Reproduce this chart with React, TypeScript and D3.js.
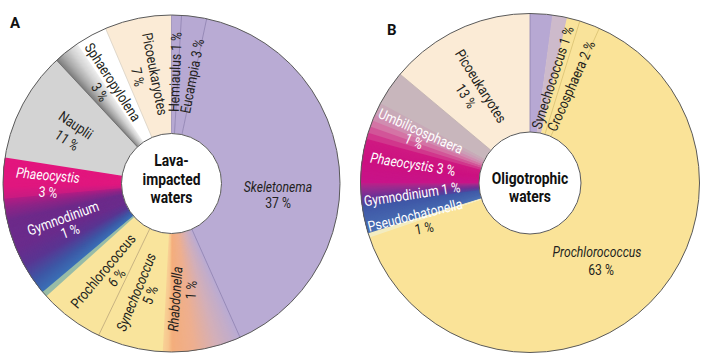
import React from 'react';
import * as d3 from 'd3';

// ---------- DATA (visual shares of each ring, clockwise from 12 o'clock) ----------
const leftTaxa = ['Hemiaulus', 'Eucampia', 'Skeletonema', 'Rhabdonella', 'Synechococcus', 'Prochlorococcus', 'other-a', 'Gymnodinium', 'Phaeocystis', 'Nauplii', 'other-b', 'Sphaeropylolena', 'Picoeukaryotes'];
const leftShares = [0.95, 2.4, 40, 7.5, 6.3, 6.2, 0.55, 9.7, 3.9, 10.6, 2.5, 3.05, 6.4];
const leftPct = ['1 %', '3 %', '37 %', '1 %', '5 %', '6 %', '', '1 %', '3 %', '11 %', '', '3 %', '7 %'];

const rightTaxa = ['Synechococcus', 'other-a', 'other-b', 'Crocosphaera', 'Prochlorococcus', 'other-c', 'Pseudochatonella', 'Gymnodinium', 'Phaeocystis', 'Umbilicosphaera', 'other-d', 'Picoeukaryotes'];
const rightShares = [2.1, 1.4, 1.25, 1.95, 63.1, 0.4, 2.6, 2.2, 4.2, 3.6, 3.3, 13.9];
const rightPct = ['1 %', '', '', '2 %', '63 %', '', '1 %', '1 %', '3 %', '1 %', '', '13 %'];

const leftCenterText = ['Lava-', 'impacted', 'waters'];
const rightCenterText = ['Oligotrophic', 'waters'];

// ---------- STYLES ----------
type Stop = [number, string];
const LAV = '#b9abd4';
const YEL = '#f9e49c';
const CREAM = '#fbebd6';

const leftFills: Stop[][] = [
  [[0, '#b6a8d2']],
  [[0, '#b7a9d3']],
  [[0, LAV]],
  [[0, LAV], [0.3, '#d2afba'], [0.6, '#eeaf90'], [0.88, '#f4ae7c'], [0.93, '#f7c58e'], [1, '#f8d296']],
  [[0, YEL]],
  [[0, YEL]],
  [[0, '#98bca6']],
  [[0, '#3a70b6'], [0.14, '#3d58a6'], [0.32, '#5a3592'], [0.5, '#6a2c8c'], [0.78, '#6d2a8a'], [0.9, '#8d2487'], [1, '#b41c84']],
  [[0, '#c81c82'], [0.3, '#e0177f'], [1, '#e3167e']],
  [[0, '#d3d3d3']],
  [[0, '#7c7c7c'], [0.3, '#a9a9a9'], [0.65, '#d2d2d2'], [1, '#efefef']],
  [[0, '#ffffff']],
  [[0, CREAM]],
];
const leftEdges: (string | null)[] = ['#9489b4', '#8e82b0', '#8e82b0', '#8e82b0', null, '#bba67a', null, null, null, null, '#666666', null, '#d8d0c4'];

const rightFills: Stop[][] = [
  [[0, '#b7a8d3']],
  [[0, '#cdbacb']],
  [[0, '#f9e39a']],
  [[0, '#f9e39a']],
  [[0, '#fae398']],
  [[0, '#f3ecc0']],
  [[0, '#4a70b4'], [1, '#3f56a6']],
  [[0, '#4a4aa0'], [0.4, '#6e3296'], [0.8, '#a02a8e'], [1, '#c01e88']],
  [[0, '#c8148a'], [0.5, '#cc1181'], [1, '#cf1a82']],
  [[0, '#d1368c'], [0.2, '#d25598'], [0.4, '#d474a5'], [0.6, '#d08cb0'], [0.8, '#cb9eb6'], [1, '#c8aab8']],
  [[0, '#c8b6bc']],
  [[0, CREAM]],
];
const rightBands = [0, 0, 0, 0, 0, 0, 0, 0, 0, 6, 0, 0];
const rightEdges: (string | null)[] = ['#8e82b0', null, null, '#d8c070', '#d8c070', null, null, null, null, null, null, '#bfb0b0'];

// label layout: taxon index, which line, offset from ring centre, rotation
type LabelLine = { i: number; kind: 'name' | 'pct' | 'both'; dx: number; dy: number; rot: number; fill?: string; it?: boolean };
const leftLabelLayout: LabelLine[] = [
  { i: 0, kind: 'both', dx: 3.5, dy: -111.5, rot: -88 },
  { i: 1, kind: 'both', dx: 20.5, dy: -107.5, rot: -79 },
  { i: 12, kind: 'name', dx: -16.5, dy: -109.5, rot: 79 },
  { i: 12, kind: 'pct', dx: -33.5, dy: -106.5, rot: 79 },
  { i: 11, kind: 'name', dx: -58.5, dy: -101.5, rot: 57 },
  { i: 11, kind: 'pct', dx: -71.5, dy: -91.5, rot: 57 },
  { i: 9, kind: 'name', dx: -95.5, dy: -58.5, rot: 34 },
  { i: 9, kind: 'pct', dx: -104.5, dy: -43.5, rot: 34 },
  { i: 8, kind: 'name', dx: -123.5, dy: -8.5, rot: 5, fill: '#fff', it: true },
  { i: 8, kind: 'pct', dx: -123.5, dy: 8.5, rot: 5, fill: '#fff' },
  { i: 7, kind: 'name', dx: -108.5, dy: 34.5, rot: -20, fill: '#fff' },
  { i: 7, kind: 'pct', dx: -101.5, dy: 47.5, rot: -20, fill: '#fff' },
  { i: 5, kind: 'name', dx: -68.5, dy: 87.5, rot: -50 },
  { i: 5, kind: 'pct', dx: -55, dy: 94, rot: -50 },
  { i: 4, kind: 'name', dx: -35.5, dy: 108.5, rot: -68, it: true },
  { i: 4, kind: 'pct', dx: -21.5, dy: 111.5, rot: -68 },
  { i: 3, kind: 'name', dx: 3.5, dy: 115.5, rot: -86, it: true },
  { i: 3, kind: 'pct', dx: 19.5, dy: 106.5, rot: -86 },
  { i: 2, kind: 'name', dx: 106.5, dy: 3, rot: 0, it: true },
  { i: 2, kind: 'pct', dx: 106.5, dy: 19.5, rot: 0 },
];
const rightLabelLayout: LabelLine[] = [
  { i: 11, kind: 'name', dx: -49, dy: -97, rot: 58 },
  { i: 11, kind: 'pct', dx: -64, dy: -87, rot: 58 },
  { i: 0, kind: 'both', dx: 22.5, dy: -105.5, rot: -72 },
  { i: 3, kind: 'both', dx: 41, dy: -97, rot: -66 },
  { i: 4, kind: 'name', dx: 67, dy: 69, rot: 0, it: true },
  { i: 4, kind: 'pct', dx: 71, dy: 87, rot: 0 },
  { i: 9, kind: 'name', dx: -109, dy: -52, rot: 24, fill: '#fff' },
  { i: 9, kind: 'pct', dx: -116, dy: -42, rot: 24, fill: '#fff' },
  { i: 8, kind: 'both', dx: -117, dy: -19, rot: 9, fill: '#fff', it: true },
  { i: 7, kind: 'both', dx: -118, dy: 11, rot: -8.5, fill: '#fff' },
  { i: 6, kind: 'name', dx: -115, dy: 32, rot: -14, fill: '#fff' },
  { i: 6, kind: 'pct', dx: -106, dy: 45, rot: -10 },
];

const FONT = "Roboto, 'Liberation Sans', sans-serif";
const SQUEEZE = 0.84;
const DEG = Math.PI / 180;

function colorAt(stops: Stop[], t: number): string {
  if (stops.length === 1) return stops[0][1];
  for (let k = 0; k < stops.length - 1; k++) {
    const [t0, c0] = stops[k];
    const [t1, c1] = stops[k + 1];
    if (t <= t1) return d3.interpolateRgb(c0, c1)((t - t0) / (t1 - t0 || 1));
  }
  return stops[stops.length - 1][1];
}

type PieProps = {
  cx: number; cy: number; r0: number; r1: number;
  taxa: string[]; shares: number[]; pct: string[];
  fills: Stop[][]; edges: (string | null)[]; bands?: number[];
  layout: LabelLine[]; center: string[]; centerDy: number[];
};

function Ring(p: PieProps) {
  const arcs = d3.pie<number>().sort(null).value((d) => d)(p.shares);
  const arcGen = d3.arc<{ startAngle: number; endAngle: number }>().innerRadius(p.r0).outerRadius(p.r1);
  const pieces: JSX.Element[] = [];
  arcs.forEach((a, i) => {
    const stops = p.fills[i];
    const span = a.endAngle - a.startAngle;
    const last = i === arcs.length - 1;
    if (stops.length === 1) {
      pieces.push(<path key={`s${i}`} d={arcGen({ startAngle: a.startAngle, endAngle: a.endAngle + (last ? 0 : 0.004) }) || ''} fill={stops[0][1]} />);
    } else {
      const explicit = p.bands && p.bands[i];
      const n = explicit || Math.max(2, Math.ceil(span / (0.3 * DEG)));
      for (let k = 0; k < n; k++) {
        const t0 = k / n, t1 = (k + 1) / n;
        const tm = explicit ? k / Math.max(1, n - 1) : (k + 0.5) / n;
        pieces.push(
          <path key={`s${i}-${k}`}
            d={arcGen({ startAngle: a.startAngle + t0 * span, endAngle: a.startAngle + t1 * span + 0.6 * DEG }) || ''}
            fill={colorAt(stops, tm)} />
        );
      }
    }
  });
  // redraw following slices start so gradient overlap does not spill beyond its slice
  const edgeLines = arcs.map((a, i) => {
    const c = p.edges[i];
    if (!c) return null;
    const ang = a.startAngle;
    const s = Math.sin(ang), co = -Math.cos(ang);
    return <line key={`e${i}`} x1={p.r0 * s} y1={p.r0 * co} x2={p.r1 * s} y2={p.r1 * co} stroke={c} strokeWidth={0.8} />;
  });
  return (
    <g transform={`translate(${p.cx},${p.cy})`}>
      {pieces}
      {edgeLines}
      <circle r={p.r1} fill="none" stroke="#5a5a5a" strokeWidth={1} />
      <circle r={p.r0} fill="#fff" stroke="#5a5a5a" strokeWidth={1} />
      {p.layout.map((l, k) => {
        const name = p.taxa[l.i];
        const pc = p.pct[l.i];
        return (
          <text key={`l${k}`} transform={`translate(${l.dx},${l.dy}) rotate(${l.rot}) scale(${SQUEEZE},1)`} textAnchor="middle" dy="0.36em"
            fontFamily={FONT} fontSize={14.5} fill={l.fill || '#231f20'}>
            {l.kind !== 'pct' && <tspan fontStyle={l.it ? 'italic' : 'normal'}>{name}</tspan>}
            {l.kind === 'both' && ' '}
            {l.kind !== 'name' && <tspan>{pc}</tspan>}
          </text>
        );
      })}
      {p.center.map((t, k) => (
        <text key={`c${k}`} transform={`translate(0,${p.centerDy[k]}) scale(${SQUEEZE},1)`} textAnchor="middle" fontFamily={FONT} fontWeight="bold" fontSize={16.5} fill="#111">{t}</text>
      ))}
    </g>
  );
}

export default function App() {
  return (
    <svg width={703} height={359} style={{ position: 'absolute', left: 0, top: 0, background: '#fff' }}>
      <rect width={703} height={359} fill="#fff" />
      <text x={10} y={28} fontFamily={FONT} fontWeight="bold" fontSize={15} fill="#111">A</text>
      <text x={387} y={35} fontFamily={FONT} fontWeight="bold" fontSize={15} fill="#111">B</text>
      <Ring cx={171.5} cy={183.5} r0={50} r1={168.5}
        taxa={leftTaxa} shares={leftShares} pct={leftPct}
        fills={leftFills} edges={leftEdges}
        layout={leftLabelLayout} center={leftCenterText} centerDy={[-17.5, 1.5, 19.5]} />
      <Ring cx={530} cy={183} r0={51} r1={169.5}
        taxa={rightTaxa} shares={rightShares} pct={rightPct}
        fills={rightFills} edges={rightEdges} bands={rightBands}
        layout={rightLabelLayout} center={rightCenterText} centerDy={[0.5, 18.5]} />
    </svg>
  );
}
